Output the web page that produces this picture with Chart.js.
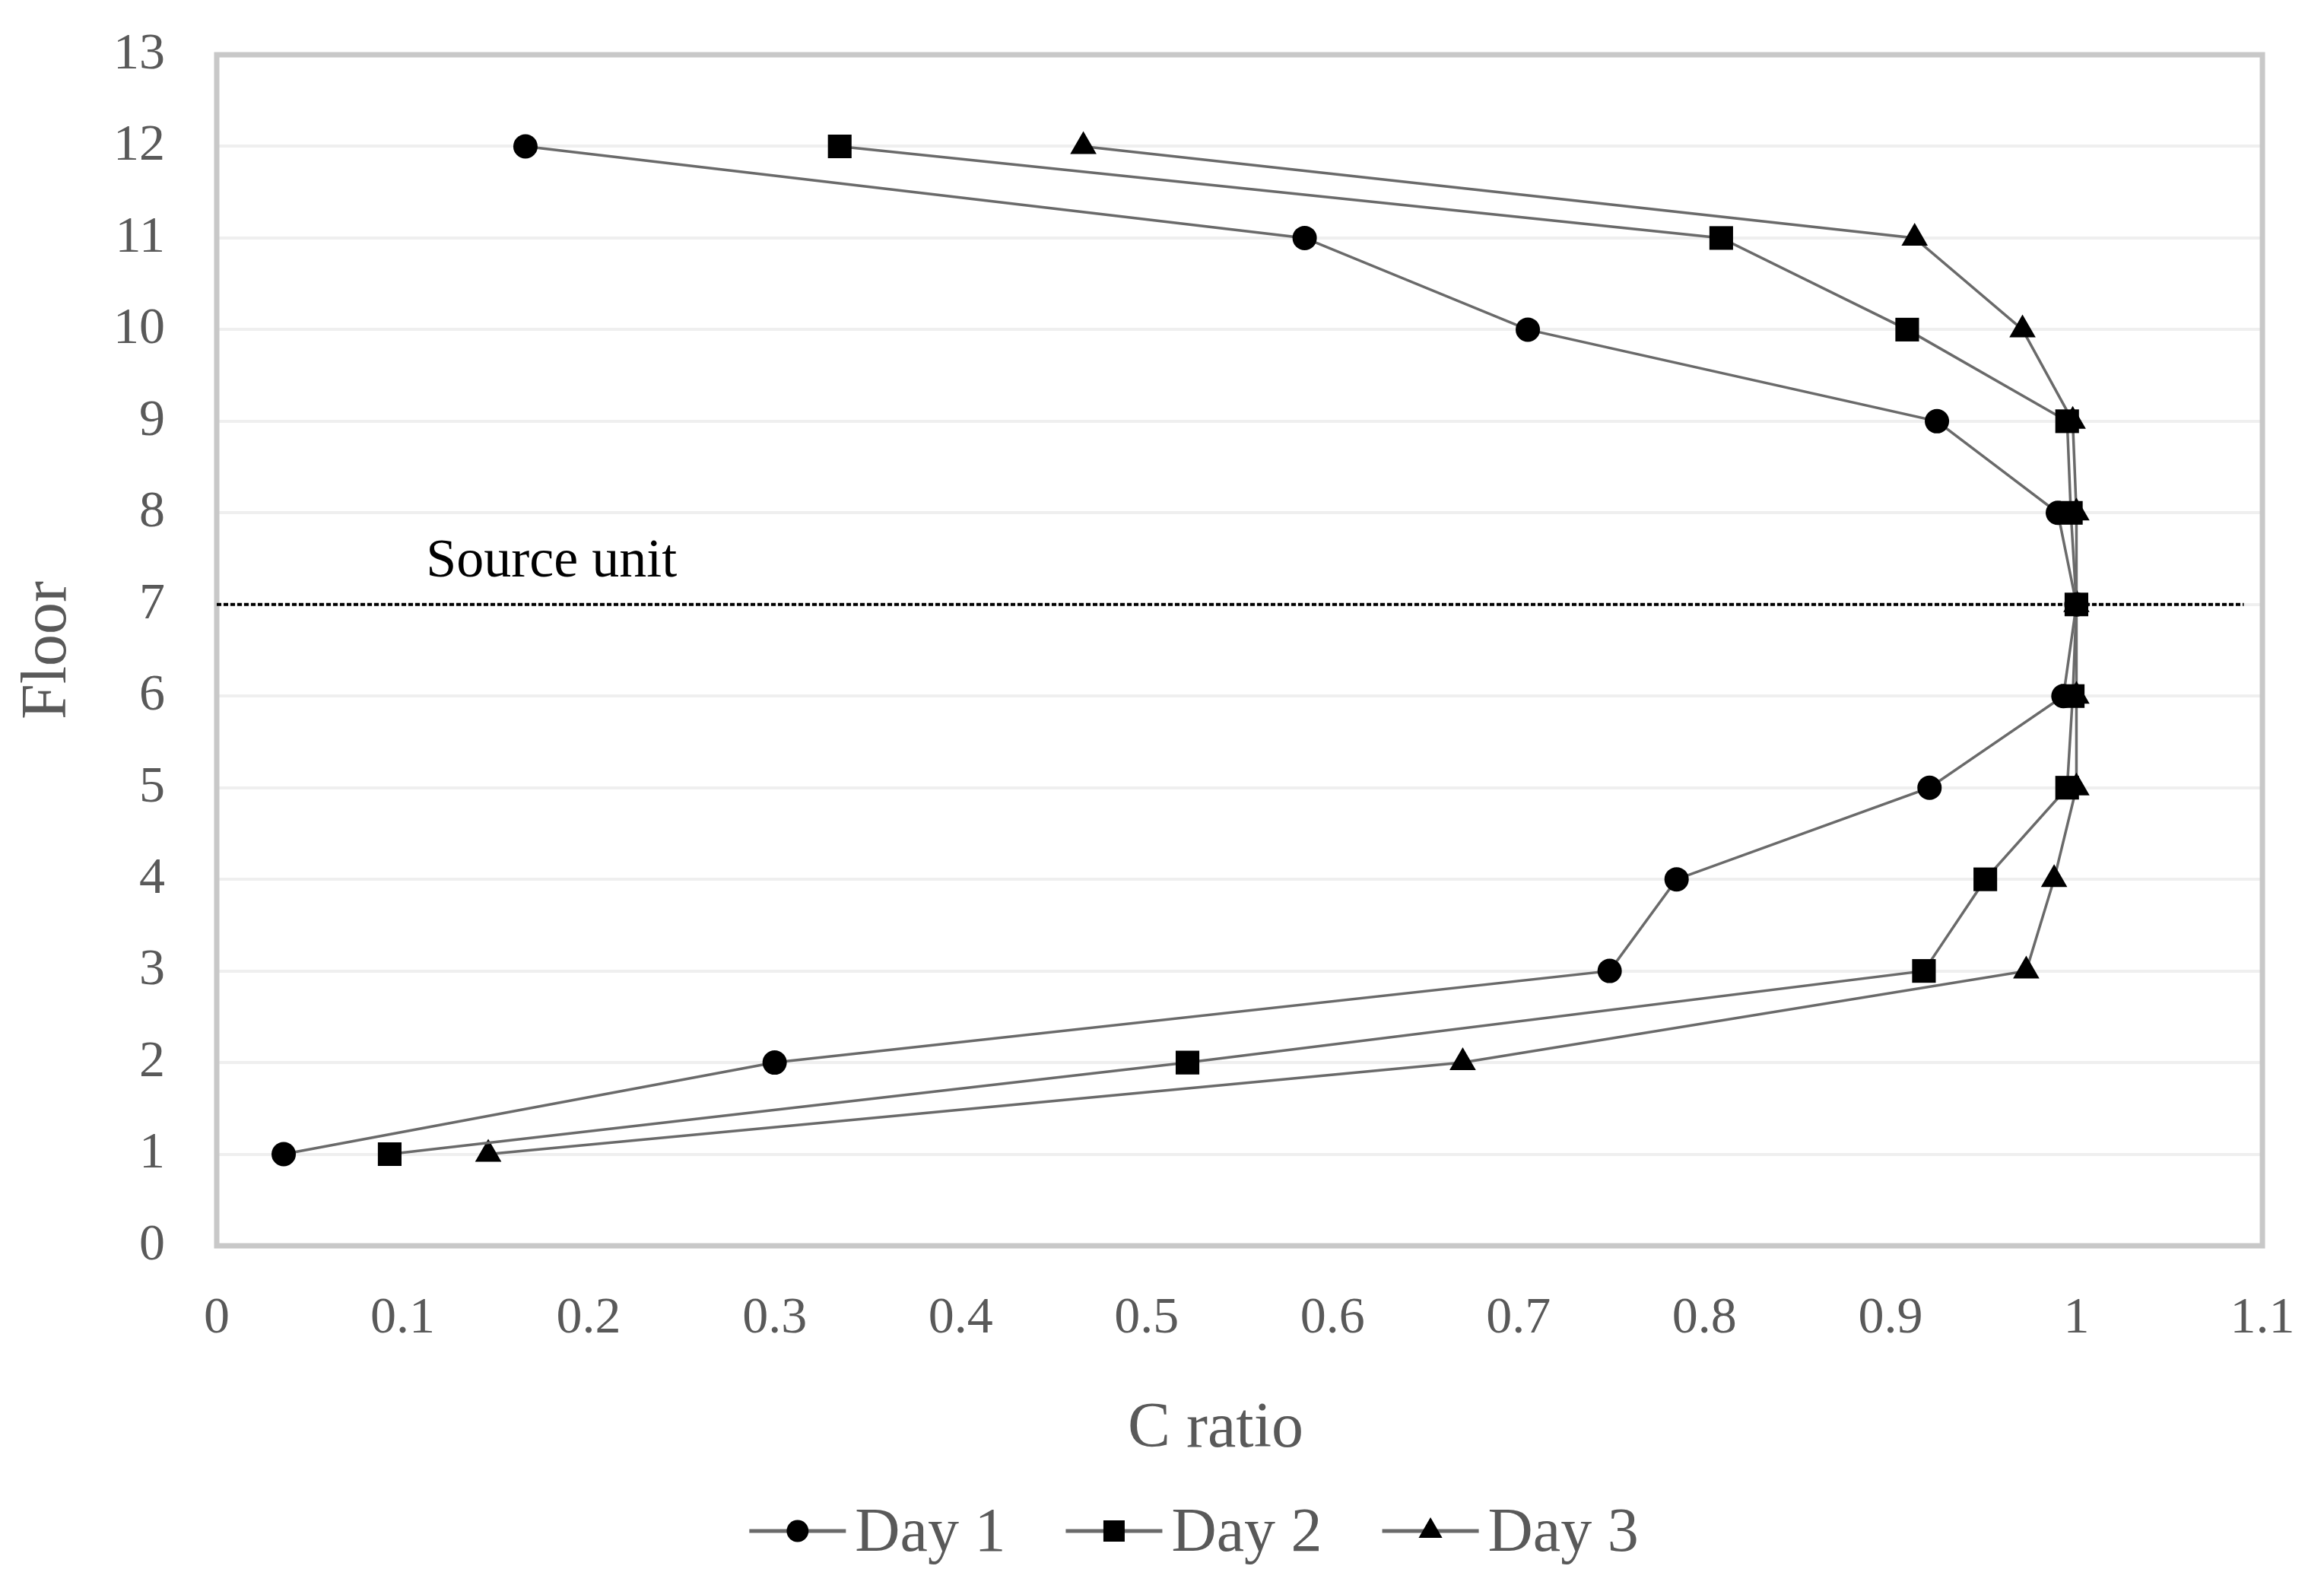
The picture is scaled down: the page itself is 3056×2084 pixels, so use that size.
<!DOCTYPE html>
<html>
<head>
<meta charset="utf-8">
<script src="https://cdn.jsdelivr.net/npm/chart.js@4.4.1/dist/chart.umd.min.js"></script>
<style>
  html, body { margin: 0; padding: 0; background: #fff; }
  canvas { display: block; }
</style>
</head>
<body>
<canvas id="chart" width="3056" height="2084"></canvas>
<script>
// floors 1..12, C ratio per day
const floors = [1, 2, 3, 4, 5, 6, 7, 8, 9, 10, 11, 12];
const day1 = [0.036, 0.300, 0.749, 0.785, 0.921, 0.993, 1.000, 0.990, 0.925, 0.705, 0.585, 0.166];
const day2 = [0.093, 0.522, 0.918, 0.951, 0.995, 0.998, 1.000, 0.997, 0.995, 0.909, 0.809, 0.335];
const day3 = [0.146, 0.670, 0.973, 0.988, 1.000, 1.000, 1.000, 1.000, 0.998, 0.971, 0.913, 0.466];

const seriesNames = ["Day 1", "Day 2", "Day 3"];
const seriesMarkers = ["circle", "rect", "triangle"];
const markerRadius = { circle: 16, rect: 22, triangle: 20 };

const xTickLabels = ["0", "0.1", "0.2", "0.3", "0.4", "0.5", "0.6", "0.7", "0.8", "0.9", "1", "1.1"];
const sourceFloor = 7;
const sourceLineEnd = 1.09;
const sourceLabel = "Source unit";
const sourceLabelPos = { x: 0.18, y: 7.46 };

const FONT = "'Liberation Serif', 'Times New Roman', serif";
const GREY_TEXT = "#595959";
const LINE_GREY = "#6a6a6a";

function toPoints(values) {
  return values.map((v, i) => ({ x: v, y: floors[i] }));
}

const seriesDatasets = [day1, day2, day3].map((vals, i) => ({
  label: seriesNames[i],
  data: toPoints(vals),
  borderColor: LINE_GREY,
  borderWidth: 3.5,
  pointStyle: seriesMarkers[i],
  pointRadius: markerRadius[seriesMarkers[i]],
  pointBackgroundColor: "#000",
  pointBorderColor: "#000",
  pointBorderWidth: 0,
  tension: 0,
  order: 0,
}));

const sourceDataset = {
  label: "source",
  data: [{ x: 0, y: sourceFloor }, { x: sourceLineEnd, y: sourceFloor }],
  borderColor: "#000",
  borderWidth: 4,
  borderDash: [6, 3],
  pointRadius: 0,
  order: 1,
};

const framePlugin = {
  id: "frame",
  beforeDatasetsDraw(chart) {
    const { ctx, chartArea: a } = chart;
    ctx.save();
    ctx.strokeStyle = "#c8c8c8";
    ctx.lineWidth = 7;
    ctx.strokeRect(a.left, a.top, a.right - a.left, a.bottom - a.top);
    ctx.restore();
  },
};

const annotationPlugin = {
  id: "extras",
  afterDraw(chart) {
    const { ctx } = chart;
    const xs = chart.scales.x;
    const ys = chart.scales.y;

    // source unit label
    ctx.save();
    ctx.font = `72px ${FONT}`;
    ctx.fillStyle = "#000";
    ctx.textAlign = "center";
    ctx.textBaseline = "middle";
    ctx.fillText(sourceLabel, xs.getPixelForValue(sourceLabelPos.x), ys.getPixelForValue(sourceLabelPos.y));
    ctx.restore();

    // legend: line + marker + text
    const lineLen = 127;
    const textGap = 12;
    const itemGap = 79;
    const centerX = 1570;
    const centerY = 2013;
    ctx.save();
    ctx.font = `82px ${FONT}`;
    const widths = seriesNames.map((n) => ctx.measureText(n).width);
    const total = widths.reduce((s, w) => s + lineLen + textGap + w, 0) + itemGap * (seriesNames.length - 1);
    let x = centerX - total / 2;
    seriesNames.forEach((name, i) => {
      ctx.strokeStyle = LINE_GREY;
      ctx.lineWidth = 5;
      ctx.beginPath();
      ctx.moveTo(x, centerY);
      ctx.lineTo(x + lineLen, centerY);
      ctx.stroke();
      ctx.fillStyle = "#000";
      ctx.strokeStyle = "#000";
      const style = seriesMarkers[i];
      Chart.helpers.drawPoint(ctx, { pointStyle: style, radius: markerRadius[style] * 0.9, borderWidth: 0 }, x + lineLen / 2, centerY);
      ctx.fillStyle = GREY_TEXT;
      ctx.textAlign = "left";
      ctx.textBaseline = "middle";
      ctx.fillText(name, x + lineLen + textGap, centerY + 4);
      x += lineLen + textGap + widths[i] + itemGap;
    });
    ctx.restore();
  },
};

new Chart(document.getElementById("chart"), {
  type: "line",
  data: { datasets: [...seriesDatasets, sourceDataset] },
  plugins: [framePlugin, annotationPlugin],
  options: {
    responsive: false,
    devicePixelRatio: 1,
    animation: false,
    layout: { padding: { left: 0, top: 72, right: 81, bottom: 140 } },
    plugins: { legend: { display: false }, tooltip: { enabled: false } },
    scales: {
      x: {
        type: "linear",
        min: 0,
        max: 1.1,
        afterFit(scale) {
          scale.height = 306;
          scale.paddingLeft = 0;
          scale.paddingRight = 0;
        },
        grid: { display: false, drawTicks: false },
        border: { display: false },
        ticks: {
          stepSize: 0.1,
          padding: 55,
          color: GREY_TEXT,
          font: { family: FONT, size: 68 },
          maxRotation: 0,
          autoSkip: false,
          callback: (value, index) => xTickLabels[index],
        },
        title: {
          display: true,
          text: "C ratio\u00a0\u00a0\u00a0",
          color: GREY_TEXT,
          font: { family: FONT, size: 84 },
          padding: { top: 0, bottom: 14 },
        },
      },
      y: {
        type: "linear",
        min: 0,
        max: 13,
        afterFit(scale) {
          scale.width = 285;
          scale.paddingTop = 0;
          scale.paddingBottom = 0;
        },
        grid: { color: "#efefef", lineWidth: 4, drawTicks: false },
        border: { display: false },
        ticks: {
          stepSize: 1,
          padding: 68,
          color: GREY_TEXT,
          font: { family: FONT, size: 68 },
          autoSkip: false,
        },
        title: {
          display: true,
          text: "Floor",
          color: GREY_TEXT,
          font: { family: FONT, size: 84 },
          padding: { top: 14, bottom: 0 },
        },
      },
    },
  },
});
</script>
</body>
</html>
